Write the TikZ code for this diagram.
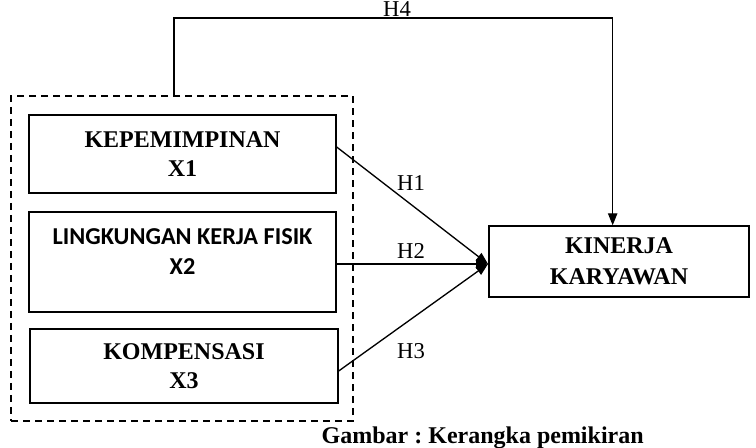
\documentclass[tikz,border=0pt]{standalone}
\usepackage{fontspec}
\setmainfont{Liberation Serif}
\newfontfamily\carlito{Carlito}
\usetikzlibrary{arrows.meta}
\frenchspacing

\tikzset{every picture/.style={line width=1pt}}
\tikzset{
varbox/.style={draw, rectangle, inner sep=0pt, align=center, font=\fontsize{18}{21.75}\selectfont\bfseries},
hyp/.style={inner sep=0.75pt, font=\fontsize{17}{20}\selectfont},
arr/.style={-{Triangle[length=9pt,width=7pt]}}
}

\begin{document}
\begin{tikzpicture}[x=0.75pt,y=0.75pt,yscale=-1,xscale=1]
\useasboundingbox (0,0) rectangle (756,448);

% dashed group of the independent variables
\node [draw, dash pattern={on 5pt off 4pt}, minimum width=256.5pt, minimum height=243.75pt, inner sep=0pt] (grp) at (182,258.5) {};

% variable boxes
\node [varbox, minimum width=230.25pt, minimum height=58.5pt] (b1) at (182.5,154) {KEPEMIMPINAN\\X1};
\node [varbox, minimum width=230.25pt, minimum height=75pt] (b2) at (182.5,262) {};
\node [font=\fontsize{18.2}{22.5}\selectfont\bfseries\carlito, align=center] (t2) at (182.5,252) {LINGKUNGAN KERJA FISIK\\X2};
\node [varbox, minimum width=231pt, minimum height=55.5pt] (b3) at (184,366) {KOMPENSASI\\X3};
\node [varbox, font=\fontsize{18}{23}\selectfont\bfseries, minimum width=195pt, minimum height=53.25pt] (tgt) at (619,261.5) {KINERJA\\KARYAWAN};

% connectors
\coordinate (tip) at (488,264);
\coordinate (h4s) at (174,96);
\draw [arr] (b1.east) ++(0,-7) -- (tip);
\draw [arr] (b2.east) ++(0,2) -- (tip);
\draw [arr] (b3.east) ++(0,5) -- (tip);
\draw [arr] (h4s) -- (174,18) -| ([xshift=-4.75pt]tgt.north);

% Text Node
\node [hyp] (l1) at (411,183.5) {H1};
\node [hyp] (l2) at (411,251) {H2};
\node [hyp] (l3) at (411,351) {H3};
\node [hyp] (l4) at (397,9.5) {H4};
% Text Node
\node [anchor=base west, inner sep=0pt, font=\fontsize{18}{20}\selectfont\bfseries] (cap) at (321,443) {Gambar : Kerangka pemikiran};

\end{tikzpicture}
\end{document}
